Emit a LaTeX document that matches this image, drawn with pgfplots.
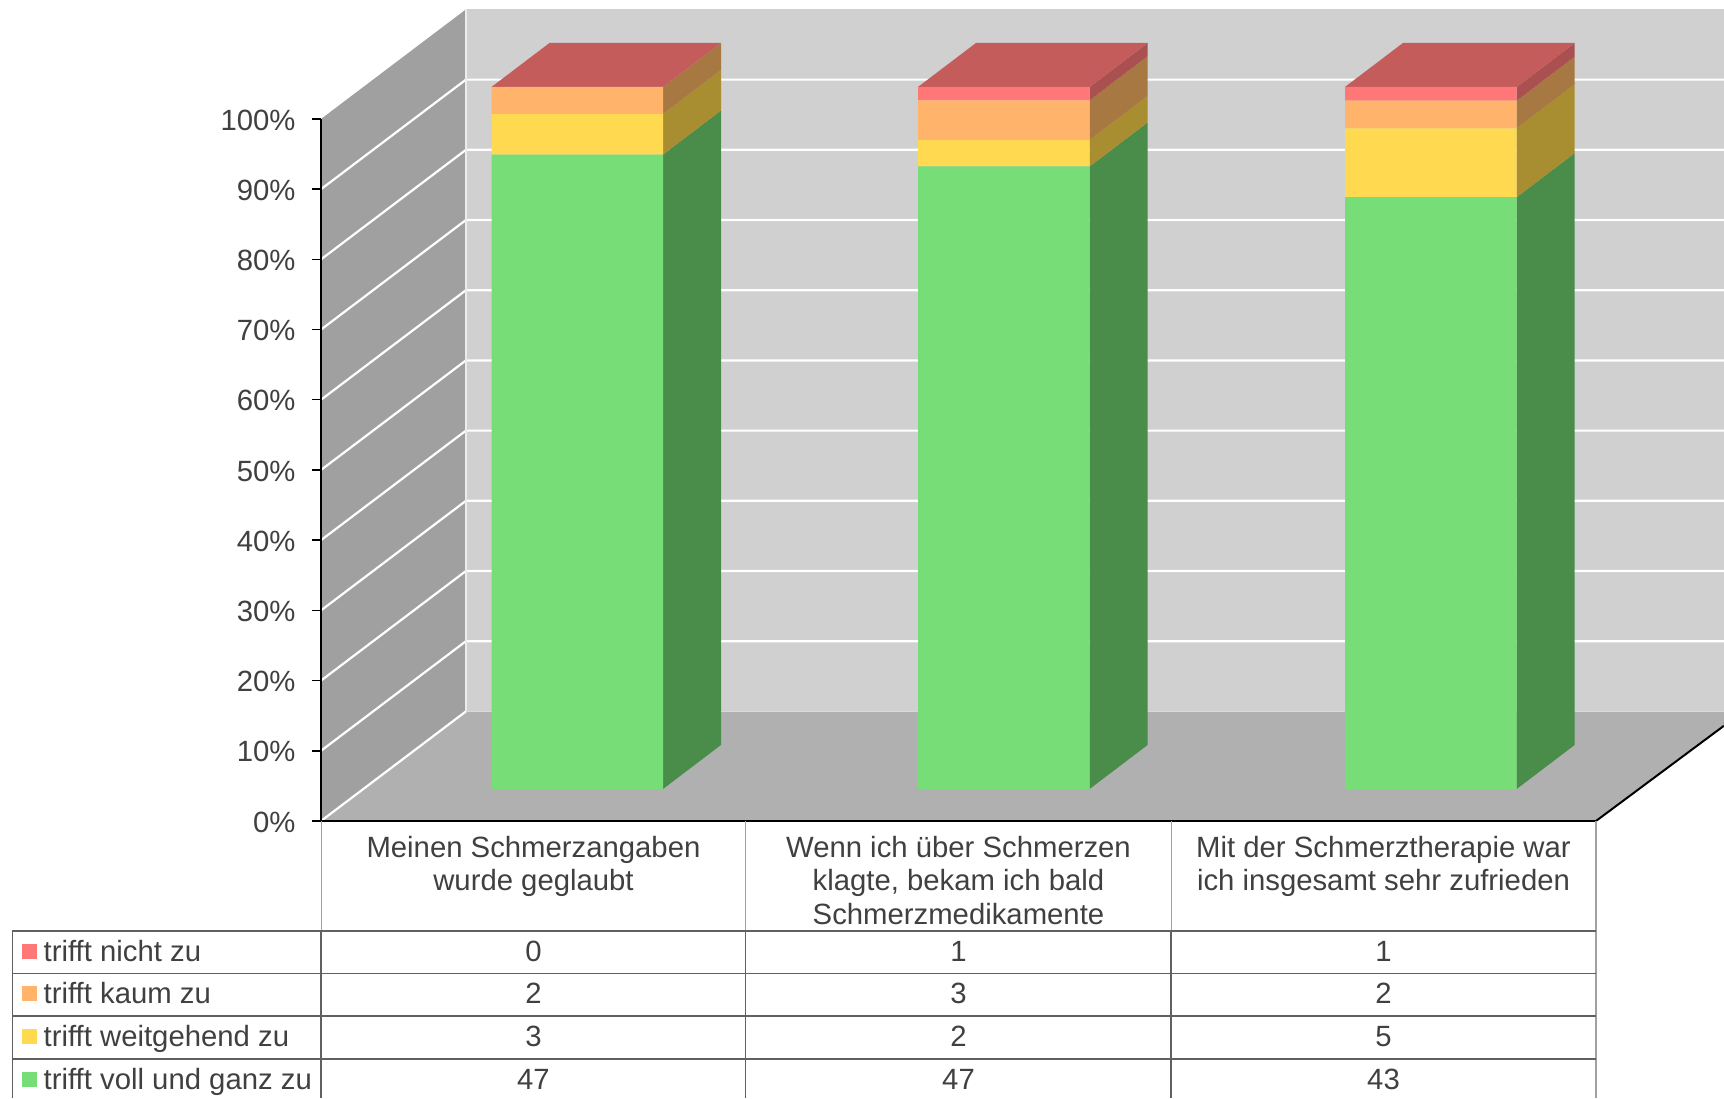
\documentclass[border=0pt]{standalone}
\usepackage{pgfplots}
\pgfplotsset{compat=1.18}
\usepackage{fontspec}
\setmainfont{Liberation Sans}
\definecolor{txt}{HTML}{404040}
\definecolor{backwall}{HTML}{D0D0D0}
\definecolor{sidewall}{HTML}{A0A0A0}
\definecolor{floorc}{HTML}{B0B0B0}
\definecolor{cg}{HTML}{77DD77}
\definecolor{cy}{HTML}{FFD94F}
\definecolor{co}{HTML}{FFB36B}
\definecolor{cr}{HTML}{FF7777}
\definecolor{sg}{HTML}{4A8C4A}
\definecolor{sy}{HTML}{A88E30}
\definecolor{so}{HTML}{A87842}
\definecolor{sr}{HTML}{AA5050}
\definecolor{tr}{HTML}{C45C5C}
\definecolor{tline}{HTML}{606060}
\definecolor{tlight}{HTML}{A0A0A0}
\newcommand{\tf}{\fontsize{29.3}{33.2}\selectfont}
\pgfplotsset{
  base/.style={
    scale only axis, width=1275pt, height=702pt,
    xmin=-0.5, xmax=2.5, ymin=0, ymax=100, clip=false,
  },
  sf/.style={fill=#1, draw=none, forget plot, no markers},
}
\begin{document}
\begin{tikzpicture}
\useasboundingbox (-321pt,-277pt) rectangle (1403pt,821pt);
\begin{axis}[base,
  axis on top=true,
  axis y line*=left, axis x line*=bottom,
  axis line style={black, line width=2.7pt},
  ytick={0,10,...,100},
  xtick={0,1,2},
  xticklabels={{Meinen Schmerzangaben\\wurde geglaubt},{Wenn ich über Schmerzen\\klagte, bekam ich bald\\Schmerzmedikamente},{Mit der Schmerztherapie war\\ich insgesamt sehr zufrieden}},
  xticklabel style={align=center, font=\tf, text=txt, anchor=north, yshift=-3pt},
  x tick style={draw=none},
  major tick length=9pt,
  tick align=outside,
  y tick style={black, line width=1.4pt},
  yticklabel=\pgfmathprintnumber{\tick}\%,
  /pgf/number format/assume math mode=true,
  yticklabel style={font=\tf, text=txt, xshift=-13pt, yshift=-1pt},
]
% walls and floor
\addplot[sf=backwall] coordinates {(-0.159,15.61) (2.801,15.61) (2.801,115.61) (-0.159,115.61)} --cycle;
\addplot[sf=sidewall] coordinates {(-0.5,0) (-0.159,15.61) (-0.159,115.61) (-0.5,100)} --cycle;
\addplot[sf=floorc] coordinates {(-0.5,0) (2.5,0) (2.801,13.56) (2.801,15.61) (-0.159,15.61)} --cycle;
% grid lines
\addplot[white, line width=2.2pt, forget plot, no markers, unbounded coords=jump] coordinates {
(-0.5,0) (-0.159,15.61) (nan,nan)
(-0.5,10) (-0.159,25.61) (2.801,25.61) (nan,nan)
(-0.5,20) (-0.159,35.61) (2.801,35.61) (nan,nan)
(-0.5,30) (-0.159,45.61) (2.801,45.61) (nan,nan)
(-0.5,40) (-0.159,55.61) (2.801,55.61) (nan,nan)
(-0.5,50) (-0.159,65.61) (2.801,65.61) (nan,nan)
(-0.5,60) (-0.159,75.61) (2.801,75.61) (nan,nan)
(-0.5,70) (-0.159,85.61) (2.801,85.61) (nan,nan)
(-0.5,80) (-0.159,95.61) (2.801,95.61) (nan,nan)
(-0.5,90) (-0.159,105.61) (2.801,105.61)
};
\addplot[color=white!85!gray, line width=1.2pt, forget plot, no markers] coordinates {(-0.159,15.61) (-0.159,115.61)};
\addplot[color=white!70!gray, line width=1.2pt, forget plot, no markers] coordinates {(-0.159,15.61) (2.801,15.61)};
\addplot[black, line width=2pt, forget plot, no markers] coordinates {(2.5,0) (2.801,13.56)};
% bar 1 sides
\addplot[sf=sg] coordinates {(0.3047,4.56) (0.4412,10.83) (0.4412,101.21) (0.3047,94.94)} --cycle;
\addplot[sf=sy] coordinates {(0.3047,94.94) (0.4412,101.21) (0.4412,106.98) (0.3047,100.71)} --cycle;
\addplot[sf=so] coordinates {(0.3047,100.71) (0.4412,106.98) (0.4412,110.83) (0.3047,104.56)} --cycle;
\addplot[sf=tr] coordinates {(-0.0988,104.56) (0.0377,110.83) (0.4412,110.83) (0.3047,104.56)} --cycle;
% bar 2 sides
\addplot[sf=sg] coordinates {(1.3085,4.56) (1.4450,10.83) (1.4450,99.51) (1.3085,93.24)} --cycle;
\addplot[sf=sy] coordinates {(1.3085,93.24) (1.4450,99.51) (1.4450,103.28) (1.3085,97.01)} --cycle;
\addplot[sf=so] coordinates {(1.3085,97.01) (1.4450,103.28) (1.4450,108.94) (1.3085,102.67)} --cycle;
\addplot[sf=sr] coordinates {(1.3085,102.67) (1.4450,108.94) (1.4450,110.83) (1.3085,104.56)} --cycle;
\addplot[sf=tr] coordinates {(0.9047,104.56) (1.0412,110.83) (1.4450,110.83) (1.3085,104.56)} --cycle;
% bar 3 sides
\addplot[sf=sg] coordinates {(2.3134,4.56) (2.4499,10.83) (2.4499,95.14) (2.3134,88.87)} --cycle;
\addplot[sf=sy] coordinates {(2.3134,88.87) (2.4499,95.14) (2.4499,104.95) (2.3134,98.68)} --cycle;
\addplot[sf=so] coordinates {(2.3134,98.68) (2.4499,104.95) (2.4499,108.87) (2.3134,102.60)} --cycle;
\addplot[sf=sr] coordinates {(2.3134,102.60) (2.4499,108.87) (2.4499,110.83) (2.3134,104.56)} --cycle;
\addplot[sf=tr] coordinates {(1.9094,104.56) (2.0459,110.83) (2.4499,110.83) (2.3134,104.56)} --cycle;
\end{axis}
\begin{axis}[base, hide axis, ybar stacked, bar width=171.5pt]
\addplot[draw=none, fill=none] coordinates {(0.103,4.56) (1.1066,4.56) (2.1114,4.56)};
\addplot[draw=none, fill=cg] coordinates {(0.103,90.38) (1.1066,88.68) (2.1114,84.31)};
\addplot[draw=none, fill=cy] coordinates {(0.103,5.77) (1.1066,3.77) (2.1114,9.81)};
\addplot[draw=none, fill=co] coordinates {(0.103,3.85) (1.1066,5.66) (2.1114,3.92)};
\addplot[draw=none, fill=cr] coordinates {(0.103,0) (1.1066,1.89) (2.1114,1.96)};
\end{axis}
% data table: x = px-321, y = 821-py
\draw[tlight, line width=1pt] (0pt,0pt) -- (0pt,-110pt);
\draw[tlight, line width=1pt] (424.7pt,0pt) -- (424.7pt,-110pt);
\draw[tlight, line width=1pt] (850pt,0pt) -- (850pt,-110pt);
\draw[tlight, line width=1.2pt] (1275pt,0pt) -- (1275pt,-277pt);
\foreach \y in {-110,-152.5,-195,-238}
  \draw[tline, line width=1.1pt] (-308.5pt,\y pt) -- (1275pt,\y pt);
\foreach \x in {-308.5,0,424.7,850}
  \draw[tline, line width=1.2pt] (\x pt,-110pt) -- (\x pt,-277pt);
\fill[cr] (-299pt,-123pt) rectangle (-284pt,-138pt);
\fill[co] (-299pt,-165pt) rectangle (-284pt,-180pt);
\fill[cy] (-299pt,-208pt) rectangle (-284pt,-223pt);
\fill[cg] (-299pt,-251pt) rectangle (-284pt,-266pt);
\begin{scope}[every node/.style={font=\tf, text=txt, inner sep=0pt}]
\foreach \yy/\lab/\a/\b/\c in {-140/trifft nicht zu/0/1/1,-182.5/trifft kaum zu/2/3/2,-225/trifft weitgehend zu/3/2/5,-268/trifft voll und ganz zu/47/47/43}{
  \node[anchor=base west] at (-277.5pt,\yy pt) {\lab};
  \node[anchor=base] at (212.5pt,\yy pt) {\a};
  \node[anchor=base] at (637.5pt,\yy pt) {\b};
  \node[anchor=base] at (1062.5pt,\yy pt) {\c};
}
\end{scope}
\end{tikzpicture}
\end{document}
